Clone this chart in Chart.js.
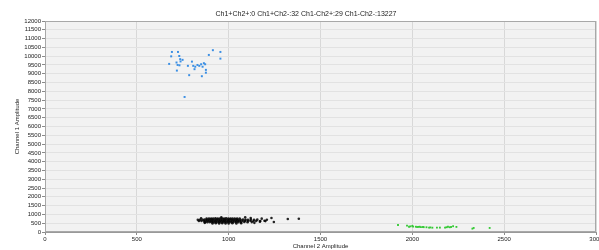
<!DOCTYPE html>
<html>
<head>
<meta charset="utf-8">
<script src="https://cdn.jsdelivr.net/npm/chart.js@4/dist/chart.umd.min.js"></script>
<style>
    html, body { margin: 0; padding: 0; background: #fff; }
    #wrap { width: 599px; height: 250px; }
</style>
</head>
<body>
<div id="wrap"><canvas id="dropletChart"></canvas></div>
<script>
// Counts shown in the title
const quadrantLabels = ['Ch1+Ch2+', 'Ch1+Ch2-', 'Ch1-Ch2+', 'Ch1-Ch2-'];
const quadrantCounts = [0, 32, 29, 13227];

// Axis ranges / ticks
const xTicks = [0, 500, 1000, 1500, 2000, 2500, 3000];
const yTicks = [0, 500, 1000, 1500, 2000, 2500, 3000, 3500, 4000, 4500, 5000, 5500,
    6000, 6500, 7000, 7500, 8000, 8500, 9000, 9500, 10000, 10500, 11000, 11500, 12000];

// Ch1+ Ch2- droplets (blue), [channel 2, channel 1]
const blueDroplets = [
    [691, 10240], [724, 10240], [687, 9990], [731, 10010], [736, 9830], [749, 9790],
    [716, 9640], [738, 9700], [676, 9560], [722, 9500], [800, 9690], [778, 9450],
    [807, 9450], [818, 9400], [840, 9450], [858, 9400], [865, 9600], [850, 9540],
    [872, 9540], [814, 9260], [876, 9220], [876, 9060], [718, 9180], [785, 8920],
    [854, 8860], [892, 10070], [914, 10340], [955, 10240], [955, 9860], [760, 7680],
    [732, 9480], [830, 9500]
];

// Ch1- Ch2+ droplets (green)
const greenDroplets = [
    [1922, 400], [1971, 360], [1982, 300], [1990, 320], [2000, 350], [2019, 300],
    [2026, 285], [2034, 290], [2040, 300], [2047, 280], [2058, 285], [2077, 270],
    [2091, 245], [2098, 260], [2109, 245], [2134, 245], [2150, 250], [2178, 245],
    [2186, 270], [2194, 300], [2204, 270], [2211, 285], [2222, 330], [2240, 290],
    [2327, 190], [2334, 230], [2421, 230], [2004, 310], [2062, 275]
];

// Ch1- Ch2- droplets (black cluster)
const blackDroplets = [
    [880, 770], [893, 765], [905, 772], [916, 768], [928, 775], [940, 770], [951, 766],
    [963, 772], [975, 768], [986, 774], [998, 770], [1010, 765], [1021, 772], [1033, 768],
    [1046, 762], [1060, 770],
    [845, 700], [858, 696], [869, 704], [881, 700], [892, 698], [904, 702], [915, 700],
    [927, 696], [938, 704], [950, 700], [961, 698], [973, 702], [984, 700], [996, 696],
    [1007, 704], [1019, 700], [1030, 698], [1042, 702], [1053, 700], [1065, 696],
    [1078, 704], [1092, 700], [1105, 694], [1121, 706], [1138, 698], [1156, 702],
    [838, 630], [852, 626], [866, 634], [878, 630], [889, 628], [901, 632], [912, 630],
    [924, 626], [935, 634], [947, 630], [958, 628], [970, 632], [981, 630], [993, 626],
    [1004, 634], [1016, 630], [1027, 628], [1039, 632], [1050, 630], [1062, 626],
    [1075, 634], [1089, 630], [1104, 624], [1118, 636], [1135, 628], [1150, 632],
    [1172, 622], [1195, 640],
    [870, 560], [884, 556], [897, 564], [909, 560], [920, 558], [932, 562], [944, 560],
    [955, 556], [967, 564], [978, 560], [990, 558], [1001, 562], [1013, 560], [1025, 556],
    [1038, 564], [1052, 560], [1067, 554], [1085, 566], [1103, 558], [1126, 562],
    [912, 490], [930, 496], [948, 488], [965, 494], [983, 490], [1000, 486], [1020, 494],
    [1042, 490], [1068, 498],
    [832, 690], [850, 780], [1180, 760], [1208, 700], [1233, 800], [1246, 570],
    [1322, 740], [1382, 750], [1120, 800], [1170, 590], [1140, 520], [870, 520],
    [1200, 620], [1090, 830], [960, 840]
];

const toPoints = list => list.map(([x, y]) => ({ x, y }));

const titleText = quadrantLabels.map((l, i) => l + ':' + quadrantCounts[i]).join(' ');

const plotBackground = {
    id: 'plotBackground',
    beforeDraw(chart) {
        const { ctx, chartArea: a } = chart;
        ctx.save();
        ctx.fillStyle = '#f2f2f2';
        ctx.fillRect(a.left, a.top, a.right - a.left, a.bottom - a.top);
        ctx.restore();
    },
    beforeDatasetsDraw(chart) {
        const { ctx, chartArea: a } = chart;
        ctx.save();
        ctx.strokeStyle = '#a8a8a8';
        ctx.lineWidth = 1;
        ctx.strokeRect(a.left + 0.5, a.top + 0.5, a.right - a.left - 1, a.bottom - a.top - 1);
        ctx.restore();
    },
    afterDraw(chart) {
        const { ctx } = chart;
        ctx.save();
        ctx.font = '7px "Liberation Sans", Arial, sans-serif';
        ctx.fillStyle = '#222';
        ctx.textAlign = 'center';
        ctx.textBaseline = 'middle';
        ctx.fillText(titleText, 306, 14);
        ctx.restore();
    }
};

const tickFont = { family: '"Liberation Sans", Arial, sans-serif', size: 6 };

new Chart(document.getElementById('dropletChart'), {
    type: 'scatter',
    data: {
        datasets: [
            {
                label: 'Ch1-Ch2-',
                data: toPoints(blackDroplets),
                backgroundColor: 'rgba(0,0,0,0.85)',
                borderWidth: 0,
                pointRadius: 1.3,
                pointHoverRadius: 1.3
            },
            {
                label: 'Ch1+Ch2-',
                data: toPoints(blueDroplets),
                backgroundColor: '#3b8fe4',
                borderWidth: 0,
                pointStyle: 'rect',
                pointRadius: 1.4,
                pointHoverRadius: 1.4
            },
            {
                label: 'Ch1-Ch2+',
                data: toPoints(greenDroplets),
                backgroundColor: '#35c935',
                borderWidth: 0,
                pointStyle: 'rect',
                pointRadius: 1.3,
                pointHoverRadius: 1.3
            }
        ]
    },
    options: {
        responsive: true,
        maintainAspectRatio: false,
        animation: false,
        events: [],
        layout: { padding: { top: 21, right: 3, bottom: 0, left: 0 } },
        plugins: {
            legend: { display: false },
            tooltip: { enabled: false }
        },
        scales: {
            x: {
                type: 'linear',
                min: xTicks[0],
                max: xTicks[xTicks.length - 1],
                afterBuildTicks: s => { s.ticks = xTicks.map(v => ({ value: v })); },
                afterFit: s => {
                    s.height = 18;
                    s.paddingLeft = 0; s.paddingRight = 0;
                },
                grid: { color: '#d8d8d8', tickColor: '#8a8a8a', tickLength: 3 },
                border: { color: '#999' },
                ticks: {
                    font: tickFont, color: '#222', padding: 1, maxRotation: 0,
                    autoSkip: false, callback: v => String(v)
                },
                title: {
                    display: true,
                    text: 'Channel 2 Amplitude',
                    font: tickFont,
                    color: '#222',
                    padding: { top: 0, bottom: 0 }
                }
            },
            y: {
                type: 'linear',
                min: yTicks[0],
                max: yTicks[yTicks.length - 1],
                afterBuildTicks: s => { s.ticks = yTicks.map(v => ({ value: v })); },
                afterFit: s => {
                    s.width = 45;
                    s.paddingTop = 0; s.paddingBottom = 0;
                },
                grid: { color: '#e2e2e2', tickColor: '#8a8a8a', tickLength: 3 },
                border: { color: '#999' },
                ticks: {
                    font: tickFont, color: '#222', padding: 1,
                    autoSkip: false, callback: v => String(v)
                },
                title: {
                    display: true,
                    text: 'Channel 1 Amplitude',
                    font: tickFont,
                    color: '#222',
                    padding: { top: 14, bottom: 0 }
                }
            }
        }
    },
    plugins: [plotBackground]
});
</script>
</body>
</html>
